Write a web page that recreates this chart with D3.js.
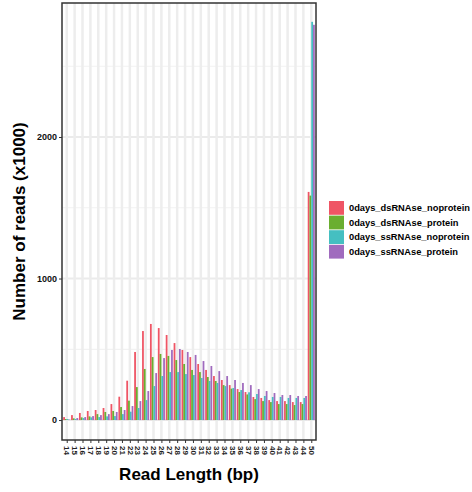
<!DOCTYPE html>
<html>
<head>
<meta charset="utf-8">
<style>
body { margin: 0; background: #fff; }
text { font-family: "Liberation Sans", Arial, sans-serif; font-weight: bold; }
</style>
</head>
<body>
<script src="https://d3js.org/d3.v7.min.js"></script>
<script>

// read lengths on the x axis
var lengths = ["14","15","16","17","18","19","20","21","22","23","24","25","26","27","28","29",
               "30","31","32","33","34","35","36","37","38","39","40","41","42","43","44","50"];

// series names and colours
var seriesNames = ["0days_dsRNAse_noprotein", "0days_dsRNAse_protein",
                   "0days_ssRNAse_noprotein", "0days_ssRNAse_protein"];
var seriesColors = ["#ef5565", "#6aae30", "#45bfc1", "#a06bbe"];

// reads (x1000) per length, one array per series
var dsNoprotein = [21, 35, 50, 64, 71, 85, 113, 165, 278, 481, 629, 679, 650, 601, 544, 495,
                   445, 396, 354, 311, 283, 247, 219, 198, 163, 156, 141, 134, 134, 127, 127, 1612];
var dsProtein   = [7, 12, 19, 26, 42, 57, 64, 92, 137, 233, 361, 445, 467, 453, 424, 396,
                   354, 339, 304, 276, 247, 222, 198, 181, 148, 134, 127, 113, 113, 106, 113, 1586];
var ssNoprotein = [7, 7, 14, 19, 21, 26, 28, 42, 59, 85, 141, 240, 311, 339, 339, 325,
                   318, 297, 276, 262, 240, 226, 212, 196, 184, 170, 163, 163, 156, 156, 156, 2814];
var ssProtein   = [3, 14, 21, 28, 35, 42, 57, 71, 99, 134, 205, 332, 438, 495, 502, 481,
                   460, 417, 382, 346, 311, 283, 262, 247, 219, 205, 191, 177, 177, 170, 170, 2793];

var yTicks = [0, 1000, 2000];
var yMinor = [500, 1500, 2500];

var allSeries = [dsNoprotein, dsProtein, ssNoprotein, ssProtein];

// flat table for drawing
var rows = [];
lengths.forEach(function(len, i) {
    seriesNames.forEach(function(s, j) {
        rows.push({len: len, series: s, value: allSeries[j][i]});
    });
});

var W = 472, H = 492;
var panel = {left: 62, right: 316, top: 3, bottom: 440};

var svg = d3.select("body").append("svg")
    .attr("width", W)
    .attr("height", H);

// scales
var x = d3.scalePoint()
    .domain(lengths)
    .range([panel.left, panel.right])
    .padding(0.6);

var step = x.step();

var xSub = d3.scaleBand()
    .domain(seriesNames)
    .range([-0.45 * step, 0.45 * step]);

var y = d3.scaleLinear()
    .domain([-141, 2947])
    .range([panel.bottom, panel.top]);

var color = d3.scaleOrdinal()
    .domain(seriesNames)
    .range(seriesColors);

// grid lines
svg.append("g").selectAll("line")
    .data(yMinor)
    .enter().append("line")
    .attr("x1", panel.left).attr("x2", panel.right)
    .attr("y1", function(d) { return y(d); })
    .attr("y2", function(d) { return y(d); })
    .attr("stroke", "#f2f2f2")
    .attr("stroke-width", 1.2);

svg.append("g").selectAll("line")
    .data(yTicks)
    .enter().append("line")
    .attr("x1", panel.left).attr("x2", panel.right)
    .attr("y1", function(d) { return y(d); })
    .attr("y2", function(d) { return y(d); })
    .attr("stroke", "#ebebeb")
    .attr("stroke-width", 2);

svg.append("g").selectAll("line")
    .data(lengths)
    .enter().append("line")
    .attr("x1", function(d) { return x(d); })
    .attr("x2", function(d) { return x(d); })
    .attr("y1", panel.top).attr("y2", panel.bottom)
    .attr("stroke", "#ededed")
    .attr("stroke-width", 2.5);

// bars
svg.append("g").selectAll("rect")
    .data(rows)
    .enter().append("rect")
    .attr("x", function(d) { return x(d.len) + xSub(d.series); })
    .attr("width", xSub.bandwidth())
    .attr("y", function(d) { return y(d.value); })
    .attr("height", function(d) { return y(0) - y(d.value); })
    .attr("fill", function(d) { return color(d.series); });

// panel border
svg.append("rect")
    .attr("x", panel.left)
    .attr("y", panel.top)
    .attr("width", panel.right - panel.left)
    .attr("height", panel.bottom - panel.top)
    .attr("fill", "none")
    .attr("stroke", "#333")
    .attr("stroke-width", 1.5);

// axes
var xAxis = svg.append("g")
    .attr("transform", "translate(0," + panel.bottom + ")")
    .call(d3.axisBottom(x).tickSize(3).tickPadding(2));
xAxis.select(".domain").remove();
xAxis.selectAll("line").attr("stroke", "#333");
xAxis.selectAll("text")
    .attr("transform", "rotate(90)")
    .attr("x", 6)
    .attr("y", 0)
    .attr("dy", "0.35em")
    .style("text-anchor", "start")
    .style("font-size", "8px")
    .attr("fill", "#222");

var yAxis = svg.append("g")
    .attr("transform", "translate(" + panel.left + ",0)")
    .call(d3.axisLeft(y).tickValues(yTicks).tickFormat(d3.format("d")).tickSize(3).tickPadding(2));
yAxis.select(".domain").remove();
yAxis.selectAll("line").attr("stroke", "#333");
yAxis.selectAll("text")
    .style("font-size", "9px")
    .attr("fill", "#111");

// axis titles
svg.append("text")
    .attr("x", (panel.left + panel.right) / 2)
    .attr("y", 480)
    .style("text-anchor", "middle")
    .style("font-size", "17px")
    .text("Read Length (bp)");

svg.append("text")
    .attr("transform", "translate(25," + ((panel.top + panel.bottom) / 2) + ") rotate(-90)")
    .style("text-anchor", "middle")
    .style("font-size", "17px")
    .text("Number of reads (x1000)");

// legend
var legend = svg.append("g")
    .attr("transform", "translate(329,201)");

var item = legend.selectAll("g")
    .data(seriesNames)
    .enter().append("g")
    .attr("transform", function(d, i) { return "translate(0," + (i * 14.6) + ")"; });

item.append("rect")
    .attr("width", 15)
    .attr("height", 13.8)
    .attr("fill", function(d) { return color(d); });

item.append("text")
    .attr("x", 20)
    .attr("y", 7)
    .attr("dy", "0.35em")
    .style("font-size", "9.3px")
    .text(function(d) { return d; });

</script>
</body>
</html>
